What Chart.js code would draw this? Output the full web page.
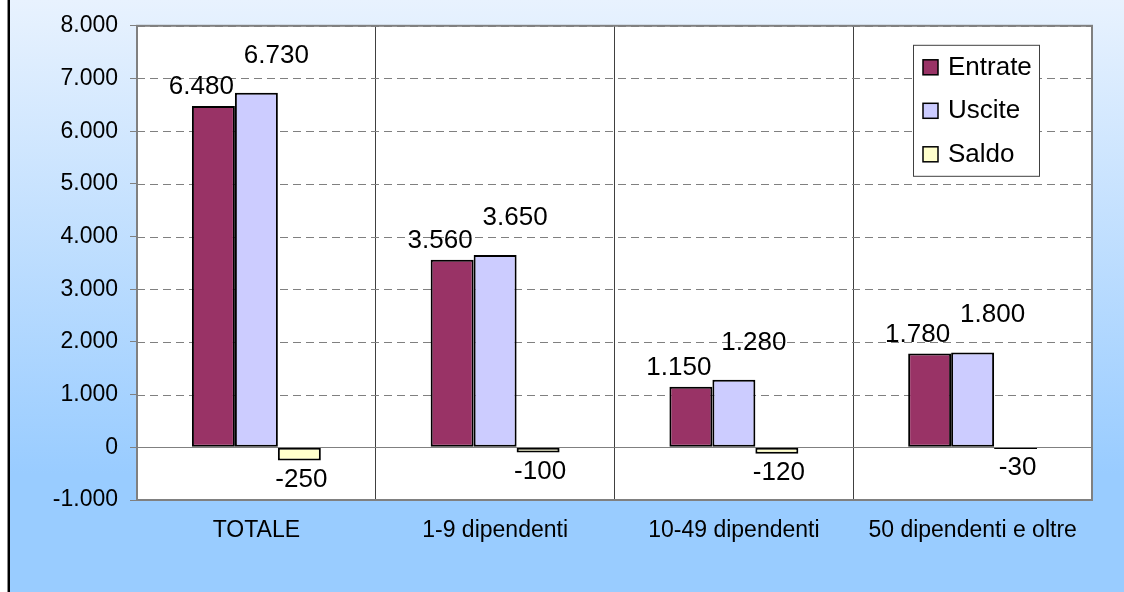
<!DOCTYPE html>
<html>
<head>
<meta charset="utf-8">
<script src="https://cdn.jsdelivr.net/npm/chart.js@4/dist/chart.umd.min.js"></script>
<style>
  body { margin: 0; background: #fff; }
  canvas { display: block; }
</style>
</head>
<body>
<canvas id="barChart" width="1124" height="592"></canvas>
<script>
// data
const categories = ['TOTALE', '1-9 dipendenti', '10-49 dipendenti', '50 dipendenti e oltre'];
const entrate = [6480, 3560, 1150, 1780];
const uscite = [6730, 3650, 1280, 1800];
const saldo = [-250, -100, -120, -30];
const yTicks = { min: -1000, max: 8000, step: 1000 };

const FONT = "'Liberation Sans', Arial, sans-serif";

// 6480 -> "6.480"
function fmt(v) {
  const s = String(Math.abs(v)).replace(/\B(?=(\d{3})+(?!\d))/g, '.');
  return (v < 0 ? '-' : '') + s;
}

const backgroundPlugin = {
  id: 'background',
  beforeDraw(chart) {
    const { ctx, width, height, chartArea } = chart;
    ctx.save();
    const g = ctx.createLinearGradient(0, 0, 0, height);
    g.addColorStop(0, '#E8F2FE');
    g.addColorStop(0.8, '#99CCFF');
    g.addColorStop(1, '#99CCFF');
    ctx.fillStyle = g;
    ctx.fillRect(0, 0, width, height);
    // left edge of the original frame
    ctx.fillStyle = '#ffffff';
    ctx.fillRect(0, 0, 7, height);
    ctx.fillStyle = '#888888';
    ctx.fillRect(7, 0, 1, height);
    ctx.fillStyle = '#000000';
    ctx.fillRect(8, 0, 2, height);
    // plot area
    ctx.fillStyle = '#ffffff';
    ctx.fillRect(chartArea.left, chartArea.top, chartArea.right - chartArea.left, chartArea.bottom - chartArea.top);
    ctx.restore();
  },
  beforeDatasetsDraw(chart) {
    const { ctx, chartArea, scales } = chart;
    ctx.save();
    // dashed horizontal gridlines from the y scale ticks
    ctx.strokeStyle = '#808080';
    ctx.lineWidth = 1;
    ctx.setLineDash([8, 5]);
    scales.y.ticks.forEach((t) => {
      if (t.value === 0) return;
      const y = Math.round(scales.y.getPixelForValue(t.value)) + 0.5;
      ctx.beginPath();
      ctx.moveTo(chartArea.left, y);
      ctx.lineTo(chartArea.right, y);
      ctx.stroke();
    });
    ctx.setLineDash([]);
    const y0 = Math.round(scales.y.getPixelForValue(0)) + 0.5;
    ctx.beginPath();
    ctx.moveTo(chartArea.left, y0);
    ctx.lineTo(chartArea.right, y0);
    ctx.stroke();
    ctx.lineWidth = 2;
    ctx.strokeRect(chartArea.left, chartArea.top, chartArea.right - chartArea.left, chartArea.bottom - chartArea.top);
    ctx.restore();
  }
};

const labelsPlugin = {
  id: 'valueLabels',
  afterDatasetsDraw(chart) {
    const { ctx } = chart;
    ctx.save();
    ctx.font = '26px ' + FONT;
    ctx.fillStyle = '#000';
    ctx.textAlign = 'center';
    chart.data.datasets.forEach((ds, di) => {
      const meta = chart.getDatasetMeta(di);
      meta.data.forEach((bar, i) => {
        const v = ds.data[i];
        const txt = fmt(v);
        if (v >= 0) {
          ctx.textBaseline = 'alphabetic';
          const dx = di === 0 ? -12 : 20;
          const gap = di === 0 ? 12 : 30;
          ctx.fillText(txt, bar.x + dx, bar.y - gap);
        } else {
          ctx.textBaseline = 'top';
          ctx.fillText(txt, bar.x + 2, bar.y + 6);
        }
      });
    });
    ctx.restore();
  }
};

const legendPlugin = {
  id: 'boxLegend',
  afterDraw(chart) {
    const { ctx, chartArea } = chart;
    const x = chartArea.right - 179, y = chartArea.top + 19, w = 126, h = 131;
    ctx.save();
    ctx.fillStyle = '#fff';
    ctx.fillRect(x, y, w, h);
    ctx.strokeStyle = '#404040';
    ctx.lineWidth = 1;
    ctx.strokeRect(x + 0.5, y + 0.5, w, h);
    ctx.font = '26px ' + FONT;
    ctx.textBaseline = 'middle';
    ctx.textAlign = 'left';
    chart.data.datasets.forEach((ds, i) => {
      const cy = y + 22 + i * 43.5;
      ctx.fillStyle = ds.backgroundColor;
      ctx.fillRect(x + 10, cy - 7, 15, 15);
      ctx.strokeStyle = '#000';
      ctx.lineWidth = 1.5;
      ctx.strokeRect(x + 10, cy - 7, 15, 15);
      ctx.fillStyle = '#000';
      ctx.fillText(ds.label, x + 35, cy + 1);
    });
    ctx.restore();
  }
};

const ctx = document.getElementById('barChart').getContext('2d');
new Chart(ctx, {
  type: 'bar',
  data: {
    labels: categories,
    datasets: [
      { label: 'Entrate', data: entrate, backgroundColor: '#993366', borderColor: '#000', borderWidth: 2, borderSkipped: false },
      { label: 'Uscite', data: uscite, backgroundColor: '#CCCCFF', borderColor: '#000', borderWidth: 2, borderSkipped: false },
      { label: 'Saldo', data: saldo, backgroundColor: '#FFFFCC', borderColor: '#000', borderWidth: 2, borderSkipped: false }
    ]
  },
  options: {
    responsive: false,
    devicePixelRatio: 1,
    animation: false,
    layout: { padding: { top: 24, right: 32, left: 0, bottom: 0 } },
    datasets: { bar: { categoryPercentage: 0.54, barPercentage: 1 } },
    plugins: {
      legend: { display: false },
      tooltip: { enabled: false }
    },
    scales: {
      x: {
        afterFit(scale) { scale.height = 92; },
        grid: { offset: true, color: '#404040', lineWidth: 1, drawTicks: false },
        border: { display: false },
        ticks: { color: '#000', padding: 17, font: { family: FONT, size: 23 } }
      },
      y: {
        min: yTicks.min,
        max: yTicks.max,
        afterFit(scale) { scale.width = 137; },
        grid: {
          drawOnChartArea: false,
          drawTicks: true,
          tickLength: 7,
          tickColor: '#808080'
        },
        border: { display: false },
        ticks: {
          stepSize: yTicks.step,
          color: '#000',
          padding: 12,
          font: { family: FONT, size: 23 },
          callback: (v) => fmt(v)
        }
      }
    }
  },
  plugins: [backgroundPlugin, labelsPlugin, legendPlugin]
});
</script>
</body>
</html>
